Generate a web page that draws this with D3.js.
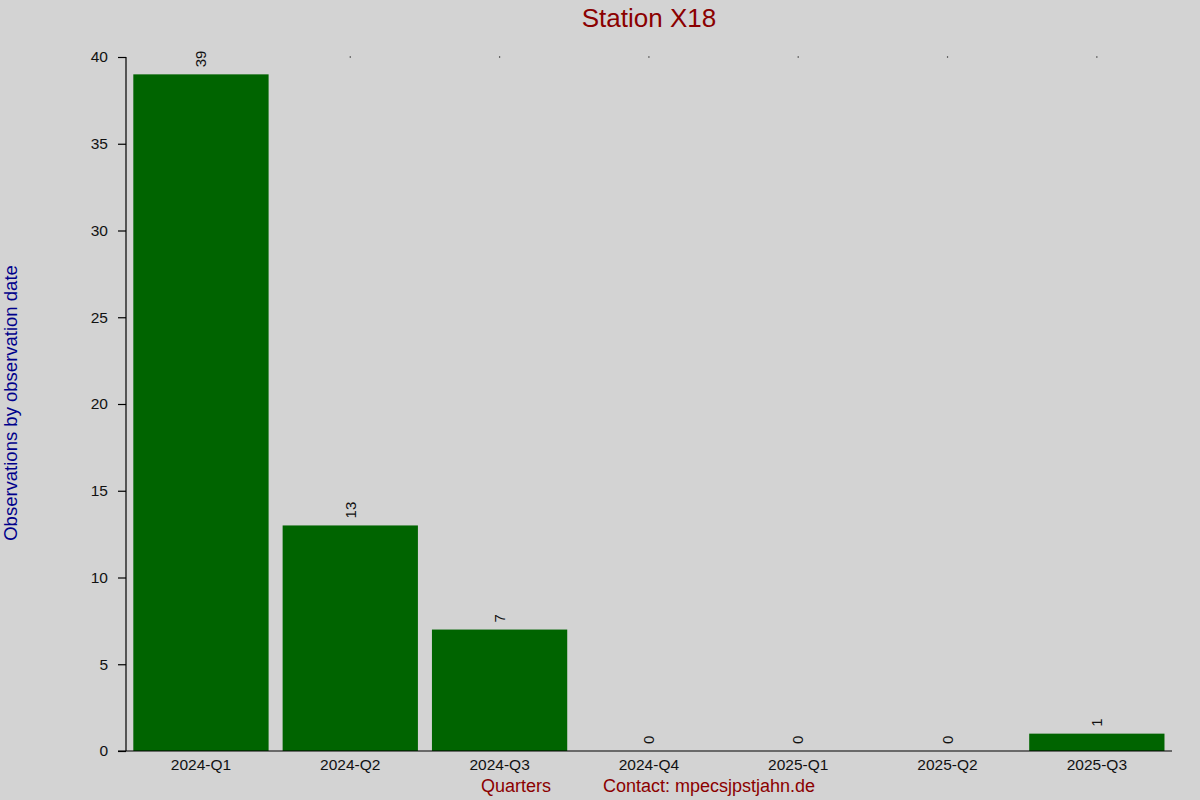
<!DOCTYPE html>
<html>
<head>
<meta charset="utf-8">
<script src="https://cdn.jsdelivr.net/npm/d3@7"></script>
<style>
  body { margin: 0; background: #d3d3d3; }
  text { font-family: "Liberation Sans", Arial, sans-serif; }
</style>
</head>
<body>
<div id="chart"></div>
<script>
// data
var quarters = ["2024-Q1", "2024-Q2", "2024-Q3", "2024-Q4", "2025-Q1", "2025-Q2", "2025-Q3"];
var counts = [39, 13, 7, 0, 0, 0, 1];
var yTicks = [0, 5, 10, 15, 20, 25, 30, 35, 40];

var svgWidth = 1200;
var svgHeight = 800;

var svg = d3.select("#chart")
    .append("svg")
    .attr("width", svgWidth)
    .attr("height", svgHeight);

svg.append("rect")
    .attr("width", svgWidth)
    .attr("height", svgHeight)
    .attr("fill", "#d3d3d3");

var xScale = d3.scaleBand()
    .domain(quarters)
    .range([126.3, 1171.5])
    .paddingInner(0.094)
    .paddingOuter(0.047);

var yScale = d3.scaleLinear()
    .domain([0, 40])
    .range([751, 57]);

// bars
svg.selectAll("rect.bar")
    .data(quarters)
    .enter()
    .append("rect")
    .classed("bar", true)
    .attr("x", d => xScale(d))
    .attr("width", xScale.bandwidth())
    .attr("y", (d, i) => yScale(counts[i]))
    .attr("height", (d, i) => yScale(0) - yScale(counts[i]))
    .attr("fill", "#006400");

// little dots at the top of each column
svg.selectAll("rect.dot")
    .data(quarters)
    .enter()
    .append("rect")
    .classed("dot", true)
    .attr("x", d => xScale(d) + xScale.bandwidth() / 2 - 0.6)
    .attr("y", yScale(40) - 0.6)
    .attr("width", 1.2)
    .attr("height", 1.2)
    .attr("fill", "#222");

// value labels, rotated
svg.selectAll("text.val")
    .data(quarters)
    .enter()
    .append("text")
    .classed("val", true)
    .attr("transform", (d, i) => {
        var x = xScale(d) + xScale.bandwidth() / 2;
        var y = yScale(counts[i]) - 7;
        return `translate(${x},${y}) rotate(-90)`;
    })
    .attr("dy", "0.35em")
    .attr("font-size", "15px")
    .attr("fill", "#111")
    .text((d, i) => counts[i]);

// y axis
var leftAxis = d3.axisLeft(yScale)
    .tickValues(yTicks)
    .tickSize(8)
    .tickPadding(10)
    .tickFormat(d3.format("d"));

var yAxisG = svg.append("g")
    .attr("transform", "translate(126,0)")
    .call(leftAxis);
yAxisG.select(".domain").attr("d", `M0,${yScale(40)}V${yScale(0)}`);
yAxisG.selectAll("line, path").attr("stroke", "#000").attr("stroke-width", 1.2);
yAxisG.selectAll("text")
    .attr("font-size", "15.5px")
    .attr("fill", "#111");

// x axis
var bottomAxis = d3.axisBottom(xScale).tickSize(0).tickPadding(8);
var xAxisG = svg.append("g")
    .attr("transform", `translate(0,${yScale(0)})`)
    .call(bottomAxis);
xAxisG.select(".domain").attr("d", "M118,0H1172").attr("stroke", "#000").attr("stroke-width", 1.2);
xAxisG.selectAll("text")
    .attr("font-size", "15.5px")
    .attr("fill", "#111");

// title
svg.append("text")
    .attr("x", 649)
    .attr("y", 27)
    .attr("text-anchor", "middle")
    .attr("font-size", "26px")
    .attr("fill", "#8b0000")
    .text("Station X18");

// y label
svg.append("text")
    .attr("transform", "translate(17,403) rotate(-90)")
    .attr("text-anchor", "middle")
    .attr("font-size", "18.5px")
    .attr("fill", "#00008b")
    .text("Observations by observation date");

// bottom labels
svg.append("text")
    .attr("x", 516)
    .attr("y", 792)
    .attr("text-anchor", "middle")
    .attr("font-size", "18px")
    .attr("fill", "#8b0000")
    .text("Quarters");

svg.append("text")
    .attr("x", 603)
    .attr("y", 792)
    .attr("font-size", "18px")
    .attr("fill", "#8b0000")
    .text("Contact: mpecsjpstjahn.de");
</script>
</body>
</html>
